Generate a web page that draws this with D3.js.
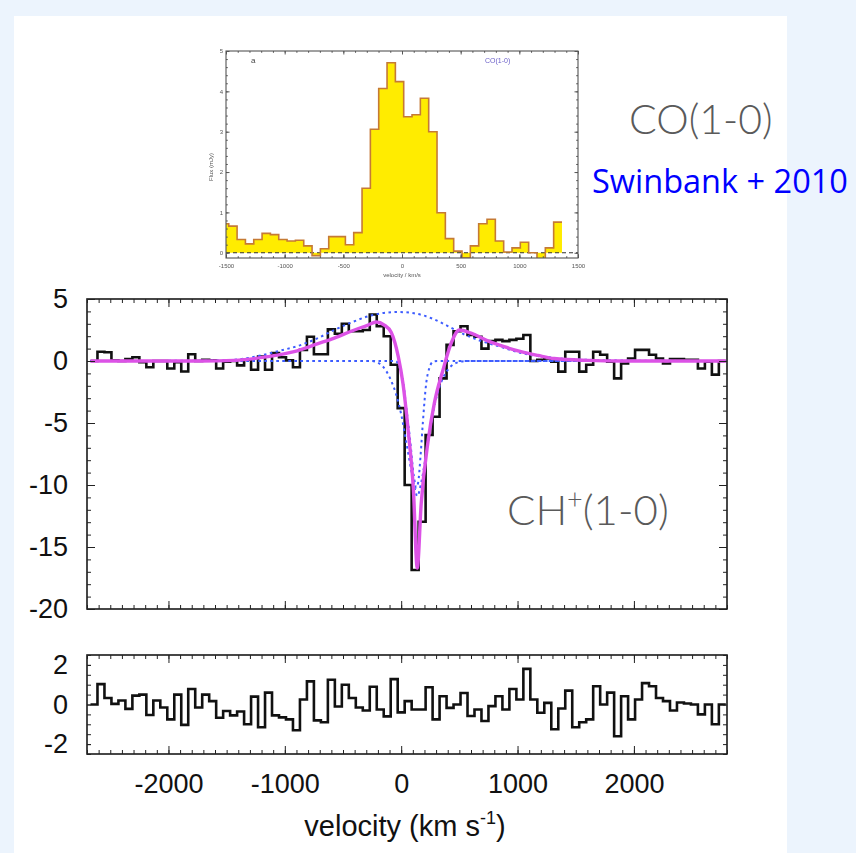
<!DOCTYPE html>
<html>
<head>
<meta charset="utf-8">
<title>CH+(1-0) absorption and CO(1-0)</title>
<script src="https://cdn.jsdelivr.net/npm/d3@7"></script>
<style>
  body { margin: 0; background: #ecf4fd; }
  svg { display: block; }
</style>
</head>
<body>
<div id="chart"></div>
<script>
// CO(1-0) inset (Swinbank + 2010): bin centres (km/s) and flux (mJy)
var coVel = [-1512, -1441, -1370, -1299, -1228, -1157, -1086, -1015, -944, -873,
             -802, -731, -660, -589, -518, -447, -376, -305, -234, -163,
             -92, -21, 50, 121, 192, 263, 334, 405, 476, 547,
             618, 689, 760, 831, 902, 973, 1044, 1115, 1186, 1257, 1328];
var coFlux = [0.72, 0.66, 0.33, 0.22, 0.33, 0.48, 0.45, 0.33, 0.29, 0.31,
              0.17, -0.07, 0.1, 0.4, 0.4, 0.2, 0.5, 1.6, 3.06, 4.07,
              4.71, 4.24, 3.37, 3.42, 3.83, 3.0, 0.99, 0.35, 0.04, -0.13,
              0.17, 0.72, 0.83, 0.29, 0.02, 0.12, 0.26, 0.0, -0.18, 0.12, 0.76];

// CH+(1-0) spectrum, 60 km/s bins: centres, flux and fit residuals
var chVel = [-2640, -2580, -2520, -2460, -2400, -2340, -2280, -2220, -2160, -2100,
             -2040, -1980, -1920, -1860, -1800, -1740, -1680, -1620, -1560, -1500,
             -1440, -1380, -1320, -1260, -1200, -1140, -1080, -1020, -960, -900,
             -840, -780, -720, -660, -600, -540, -480, -420, -360, -300,
             -240, -180, -120, -60, 0, 60, 120, 180, 240, 300,
             360, 420, 480, 540, 600, 660, 720, 780, 840, 900,
             960, 1020, 1080, 1140, 1200, 1260, 1320, 1380, 1440, 1500,
             1560, 1620, 1680, 1740, 1800, 1860, 1920, 1980, 2040, 2100,
             2160, 2220, 2280, 2340, 2400, 2460, 2520, 2580, 2640, 2700, 2760];
var chFlux = [0.0, 0.75, 0.7, 0.05, 0.0, 0.15, 0.3, -0.1, -0.5, 0.0,
              0.0, -0.6, -0.1, -0.85, 0.55, 0.0, 0.1, 0.05, -0.6, -0.05,
              0.0, -0.35, 0.1, -0.7, 0.35, -0.7, 0.65, 0.3, 0.05, -0.5,
              0.9, 1.95, 0.55, 0.55, 2.55, 2.2, 3.0, 2.4, 2.4, 2.5,
              3.75, 2.8, 2.0, -0.3, -3.8, -10.0, -16.85, -12.96, -5.97, -4.5,
              -1.4, 1.3, 2.4, 2.8, 2.1, 1.95, 1.0, 1.6, 1.7, 1.6,
              1.7, 1.8, 2.1, 0.0, 0.1, 0.2, -0.05, -0.86, 0.75, 0.75,
              -0.86, -0.3, 0.75, 0.5, -0.05, -1.4, -0.2, 0.2, 0.9, 0.9,
              0.5, 0.2, -0.2, 0.15, 0.15, 0.1, 0.1, -0.6, -0.05, -1.1, 0.0];
var chResid = [0.0, 1.03, 0.33, 0.03, 0.2, -0.22, 0.45, 0.5, -0.53, 0.2,
               -0.15, -0.75, 0.5, -1.03, 0.78, -0.15, 0.5, 0.17, -0.67, -0.33,
               -0.55, -0.35, -1.0, 0.4, -1.15, 0.6, -0.55, -0.65, -0.75, -1.3,
               0.25, 1.17, -0.8, -0.9, 1.25, -0.1, 1.0, 0.33, -0.15, -0.3,
               0.9, -0.25, -0.6, 1.28, -0.4, 0.17, -0.25, -0.25, 0.87, -0.75,
               0.42, -0.17, 0.0, 0.58, -0.58, -0.25, -0.83, -0.08, 0.42, -0.25,
               0.78, 0.25, 1.8, 0.25, -0.42, 0.08, -1.25, -0.2, 0.7, -1.15,
               -0.9, -0.75, 0.92, 0.0, 0.6, -1.6, 0.42, -0.75, 0.25, 1.08,
               0.92, 0.33, 0.17, -0.3, 0.1, 0.05, 0.0, -0.5, 0.0, -1.0, 0.0];

// total fit (magenta)
var fitVel = [-2670, -1720, -1435, -1145, -920, -715, -575, -430, -285, -215,
              -145, -85, -25, 15, 60, 105, 138, 172, 232, 285,
              360, 430, 500, 600, 750, 885, 1030, 1175, 1315, 1605, 1890, 2790];
var fitFlux = [0, 0, 0.05, 0.35, 0.75, 1.4, 1.85, 2.4, 2.9, 3.15,
               2.9, 2.3, 0.35, -1.8, -5.6, -10.4, -16.7, -11.5, -6.4, -3.4,
               -0.7, 1.45, 2.5, 2.25, 1.6, 1.15, 0.75, 0.45, 0.2, 0.05, 0, 0];

// fit components (blue dotted): broad emission and two absorptions
var emVel = [-2670, -1720, -1435, -1205, -1055, -860, -715, -575, -430, -285,
             -170, -25, 110, 260, 405, 540, 690, 835, 1030, 1315, 1605, 2150, 2790];
var emFlux = [0, 0.02, 0.1, 0.45, 0.8, 1.3, 1.85, 2.5, 3.1, 3.6,
              3.85, 3.95, 3.85, 3.45, 2.8, 2.15, 1.6, 1.2, 0.65, 0.25, 0.1, 0.02, 0];
var absAVel = [-2670, -52, -17, 17, 43, 77, 109, 129, 146, 166, 186, 215, 241, 275, 309, 2790];
var absAFlux = [0, 0, -0.4, -1.7, -3.7, -6.4, -9.3, -10.2, -9.8, -7.7, -5.0, -1.8, -0.6, -0.05, 0, 0];
var absBVel = [-2670, -258, -189, -129, -86, -43, 0, 43, 86, 120, 138,
               172, 215, 258, 301, 344, 387, 430, 490, 559, 2790];
var absBFlux = [0, 0, -0.2, -0.8, -1.6, -2.7, -4.3, -6.5, -8.8, -10.4, -10.9,
                -9.8, -7.5, -5.0, -3.0, -1.7, -0.9, -0.4, -0.1, 0, 0];

// tick labels
var xTicks = [-2000, -1000, 0, 1000, 2000];
var yTicks = [5, 0, -5, -10, -15, -20];
var rTicks = [2, 0, -2];
var coXTicks = [-1500, -1000, -500, 0, 500, 1000, 1500];
var coYTicks = [0, 1, 2, 3, 4, 5];

var W = 856, H = 853;
var font = "'Liberation Sans', Arial, Helvetica, sans-serif";

var svg = d3.select("#chart").append("svg")
    .attr("width", W)
    .attr("height", H);

// slide background and white panel
svg.append("rect").attr("width", W).attr("height", H).attr("fill", "#ecf4fd");
svg.append("rect").attr("x", 14).attr("y", 16).attr("width", 773).attr("height", H - 16).attr("fill", "#fff");

// inward ticks on one side of a frame
function ticks(g, scale, orient, pos, values, len, color, fmt, pad) {
  var make = {bottom: d3.axisBottom, top: d3.axisTop, left: d3.axisLeft, right: d3.axisRight}[orient];
  var ax = make(scale).tickValues(values).tickSize(-len)
      .tickFormat(fmt || "").tickPadding(pad || 3);
  var horiz = orient === "bottom" || orient === "top";
  var a = g.append("g")
      .attr("transform", horiz ? "translate(0," + pos + ")" : "translate(" + pos + ",0)")
      .call(ax);
  a.select(".domain").remove();
  a.selectAll("line").attr("stroke", color);
  return a;
}

// histogram as a list of [velocity, value] corner points
function stepPoints(vel, val, half) {
  var pts = [];
  vel.forEach(function(v, i) {
    pts.push([v - half, val[i]], [v + half, val[i]]);
  });
  return pts;
}

function pairs(vel, val) {
  return vel.map(function(v, i) { return [v, val[i]]; });
}

/* ---------------- CO(1-0) inset ---------------- */
var ins = svg.append("g");
var defs = svg.append("defs");
defs.append("filter").attr("id", "soft")
  .append("feGaussianBlur").attr("stdDeviation", 0.45);
defs.append("clipPath").attr("id", "coClip")
  .append("rect").attr("x", 226).attr("y", 51).attr("width", 352).attr("height", 207);

ins.attr("filter", "url(#soft)");

var xCo = d3.scaleLinear().domain([-1500, 1500]).range([226, 578]);
var yCo = d3.scaleLinear().domain([-0.13, 5]).range([258, 51]);

var coPts = stepPoints(coVel, coFlux, 35.5);
var coPlot = ins.append("g").attr("clip-path", "url(#coClip)");

coPlot.append("path")
    .datum(coPts)
    .attr("fill", "#ffec00")
    .attr("d", d3.area()
      .x(function(d) { return xCo(d[0]); })
      .y0(yCo(0))
      .y1(function(d) { return yCo(d[1]); }));

coPlot.append("line")
    .attr("x1", 226).attr("x2", 578)
    .attr("y1", yCo(0)).attr("y2", yCo(0))
    .attr("stroke", "#333")
    .attr("stroke-width", 1.2)
    .attr("stroke-dasharray", "4,3");

coPlot.append("path")
    .datum(coPts)
    .attr("fill", "none")
    .attr("stroke", "#c57a36")
    .attr("stroke-width", 1.6)
    .attr("d", d3.line()
      .x(function(d) { return xCo(d[0]); })
      .y(function(d) { return yCo(d[1]); }));

ins.append("rect")
    .attr("x", 226).attr("y", 51).attr("width", 352).attr("height", 207)
    .attr("fill", "none").attr("stroke", "#555").attr("stroke-width", 1.1);

var coMinorX = d3.range(-1500, 1501, 100);
var coMinorY = d3.range(0, 5.01, 0.2);
ticks(ins, xCo, "bottom", 258, coMinorX, 1.8, "#555");
ticks(ins, xCo, "top", 51, coMinorX, 1.8, "#555");
ticks(ins, xCo, "bottom", 258, coXTicks, 3.5, "#555");
ticks(ins, xCo, "top", 51, coXTicks, 3.5, "#555");
ticks(ins, yCo, "left", 226, coMinorY, 1.8, "#555");
ticks(ins, yCo, "right", 578, coMinorY, 1.8, "#555");
ticks(ins, yCo, "right", 578, coYTicks, 3.5, "#555");

var coLeft = ticks(ins, yCo, "left", 226, coYTicks, 3.5, "#555", String, 3);
coLeft.selectAll("text").attr("font-size", 6).attr("font-family", font).attr("fill", "#555");
var coBottom = ticks(ins, xCo, "bottom", 258, coXTicks, 3.5, "#555", String, 6);
coBottom.selectAll("text").attr("font-size", 6).attr("font-family", font).attr("fill", "#555");

ins.append("text")
    .attr("x", 402).attr("y", 277)
    .attr("text-anchor", "middle")
    .attr("font-family", font).attr("font-size", 6).attr("fill", "#555")
    .text("velocity / km/s");
ins.append("text")
    .attr("transform", "translate(213,167) rotate(-90)")
    .attr("text-anchor", "middle")
    .attr("font-family", font).attr("font-size", 6).attr("fill", "#555")
    .text("Flux (mJy)");
ins.append("text")
    .attr("x", 251).attr("y", 63)
    .attr("font-family", font).attr("font-size", 8).attr("fill", "#444")
    .text("a");
ins.append("text")
    .attr("x", 485).attr("y", 63)
    .attr("font-family", font).attr("font-size", 7).attr("fill", "#6a5fc8")
    .text("CO(1-0)");

// slide labels
svg.append("text")
    .attr("x", 629).attr("y", 134)
    .attr("font-family", "Lato, 'Open Sans', sans-serif")
    .attr("font-weight", 300)
    .attr("font-size", 41)
    .attr("fill", "#5a5a5a")
    .text("CO(1-0)");
svg.append("text")
    .attr("x", 592).attr("y", 193)
    .attr("font-family", "'Open Sans', 'Noto Sans', sans-serif")
    .attr("font-size", 32.5)
    .attr("fill", "#0000ff")
    .text("Swinbank + 2010");

/* ---------------- CH+(1-0) main panel ---------------- */
var x = d3.scaleLinear().domain([-2700, 2800]).range([87, 727]);
var yMain = d3.scaleLinear().domain([-20, 5]).range([609, 299]);
var yRes = d3.scaleLinear().domain([-2.5, 2.5]).range([754, 655]);

defs.append("clipPath").attr("id", "mainClip")
  .append("rect").attr("x", 87).attr("y", 299).attr("width", 640).attr("height", 310);
defs.append("clipPath").attr("id", "resClip")
  .append("rect").attr("x", 87).attr("y", 655).attr("width", 640).attr("height", 99);

var main = svg.append("g");
var plot = main.append("g").attr("clip-path", "url(#mainClip)");

var lineMain = d3.line()
    .x(function(d) { return x(d[0]); })
    .y(function(d) { return yMain(d[1]); });
var curveMain = d3.line()
    .curve(d3.curveMonotoneX)
    .x(function(d) { return x(d[0]); })
    .y(function(d) { return yMain(d[1]); });

// data histogram
plot.append("path")
    .datum(stepPoints(chVel, chFlux, 30))
    .attr("fill", "none")
    .attr("stroke", "#111")
    .attr("stroke-width", 2.6)
    .attr("d", lineMain);

// fit components
[[emVel, emFlux], [absBVel, absBFlux], [absAVel, absAFlux]].forEach(function(c) {
  plot.append("path")
      .datum(pairs(c[0], c[1]))
      .attr("fill", "none")
      .attr("stroke", "#3d5cff")
      .attr("stroke-width", 2)
      .attr("stroke-dasharray", "2.5,3.5")
      .attr("d", curveMain);
});

// total fit
plot.append("path")
    .datum(pairs(fitVel, fitFlux))
    .attr("fill", "none")
    .attr("stroke", "#dc52e6")
    .attr("stroke-width", 3.4)
    .attr("d", curveMain);

main.append("rect")
    .attr("x", 87).attr("y", 299).attr("width", 640).attr("height", 310)
    .attr("fill", "none").attr("stroke", "#1a1a1a").attr("stroke-width", 1.6);

var xMinor = d3.range(-2700, 2801, 100);
var yMinor = d3.range(-20, 5.01, 1);
ticks(main, x, "bottom", 609, xMinor, 4, "#222");
ticks(main, x, "top", 299, xMinor, 4, "#222");
ticks(main, x, "bottom", 609, xTicks, 8, "#222");
ticks(main, x, "top", 299, xTicks, 8, "#222");
ticks(main, yMain, "left", 87, yMinor, 4, "#222");
ticks(main, yMain, "right", 727, yMinor, 4, "#222");
ticks(main, yMain, "right", 727, yTicks, 8, "#222");
var mainLeft = ticks(main, yMain, "left", 87, yTicks, 8, "#222", String, 19);
mainLeft.selectAll("text").attr("font-size", 27).attr("font-family", font).attr("fill", "#111");

// CH+ label
var chLab = svg.append("text")
    .attr("x", 507).attr("y", 525)
    .attr("font-family", "Lato, 'Open Sans', sans-serif")
    .attr("font-weight", 300)
    .attr("font-size", 42)
    .attr("fill", "#5a5a5a");
chLab.append("tspan").text("CH");
chLab.append("tspan").attr("dy", -16).attr("font-size", 27).text("+");
chLab.append("tspan").attr("dy", 16).text("(1-0)");

/* ---------------- residual panel ---------------- */
var res = svg.append("g");
res.append("g").attr("clip-path", "url(#resClip)")
  .append("path")
    .datum(stepPoints(chVel, chResid, 30))
    .attr("fill", "none")
    .attr("stroke", "#111")
    .attr("stroke-width", 2.6)
    .attr("d", d3.line()
      .x(function(d) { return x(d[0]); })
      .y(function(d) { return yRes(d[1]); }));

res.append("rect")
    .attr("x", 87).attr("y", 655).attr("width", 640).attr("height", 99)
    .attr("fill", "none").attr("stroke", "#1a1a1a").attr("stroke-width", 1.6);

var rMinor = d3.range(-2.5, 2.51, 0.5);
ticks(res, x, "bottom", 754, xMinor, 4, "#222");
ticks(res, x, "top", 655, xMinor, 4, "#222");
ticks(res, x, "top", 655, xTicks, 8, "#222");
ticks(res, yRes, "left", 87, rMinor, 4, "#222");
ticks(res, yRes, "right", 727, rMinor, 4, "#222");
var resLeft = ticks(res, yRes, "left", 87, rTicks, 4, "#222", String, 19);
resLeft.selectAll("text").attr("font-size", 27).attr("font-family", font).attr("fill", "#111");
var resBottom = ticks(res, x, "bottom", 754, xTicks, 8, "#222", String, 20);
resBottom.selectAll("text").attr("font-size", 27).attr("font-family", font).attr("fill", "#111");

// x axis title
var xt = svg.append("text")
    .attr("x", 405).attr("y", 836)
    .attr("text-anchor", "middle")
    .attr("font-family", font)
    .attr("font-size", 29)
    .attr("fill", "#111");
xt.append("tspan").text("velocity (km s");
xt.append("tspan").attr("dy", -12).attr("font-size", 18).text("-1");
xt.append("tspan").attr("dy", 12).text(")");
</script>
</body>
</html>
